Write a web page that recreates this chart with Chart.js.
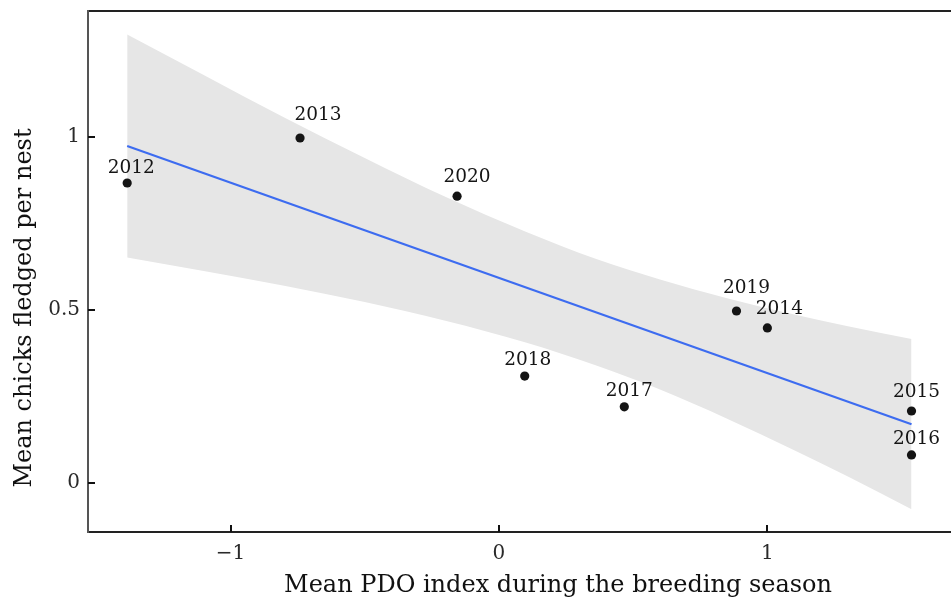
<!DOCTYPE html>
<html>
<head>
<meta charset="utf-8">
<script src="https://cdn.jsdelivr.net/npm/chart.js@4/dist/chart.umd.min.js"></script>
<style>
  html, body { margin: 0; padding: 0; background: #fff; }
  #wrap { width: 951px; height: 600px; position: relative; }
</style>
</head>
<body>
<div id="wrap"><canvas id="c" width="951" height="600"></canvas></div>
<script>
// Breeding seasons: mean PDO index (x) and mean chicks fledged per nest (y)
const years  = ['2012', '2013', '2020', '2018', '2017', '2019', '2014', '2015', '2016'];
const pdo    = [-1.385, -0.741, -0.156, 0.096, 0.467, 0.885, 1.000, 1.537, 1.537];
const chicks = [0.867, 0.997, 0.829, 0.309, 0.220, 0.497, 0.448, 0.208, 0.081];

// Fitted linear trend (endpoints)
const fitX = [-1.385, 1.537];
const fitY = [0.974, 0.170];

// 95% confidence band around the trend
const bandX     = [-1.385, -1.1, -0.8, -0.5, -0.2, 0.1, 0.36, 0.6, 0.85, 1.1, 1.3, 1.537];
const bandUpper = [1.296, 1.179, 1.056, 0.939, 0.827, 0.726, 0.648, 0.588, 0.534, 0.487, 0.453, 0.416];
const bandLower = [0.652, 0.613, 0.570, 0.523, 0.469, 0.406, 0.340, 0.270, 0.186, 0.095, 0.019, -0.076];

// Axis ticks and titles
const xTicks = [-1, 0, 1];
const yTicks = [0, 0.5, 1];
const xTitle = 'Mean PDO index during the breeding season';
const yTitle = 'Mean chicks fledged per nest';

const SERIF = "'DejaVu Serif', 'Liberation Serif', serif";

const zip = (xs, ys) => xs.map((x, i) => ({ x: x, y: ys[i] }));

// label offsets in pixels (dx, dy of baseline from point centre)
const labelNudge = [[4, -10], [18, -18], [10, -14], [3, -11], [5, -11], [10, -18], [12, -14], [5, -14], [5, -11]];

const pointLabels = {
  id: 'pointLabels',
  afterDatasetsDraw(chart) {
    const meta = chart.getDatasetMeta(3);
    const ctx = chart.ctx;
    ctx.save();
    ctx.font = "18.5px " + SERIF;
    ctx.fillStyle = '#151515';
    ctx.textAlign = 'center';
    ctx.textBaseline = 'alphabetic';
    meta.data.forEach((el, i) => {
      const n = labelNudge[i];
      ctx.fillText(years[i], el.x + n[0], el.y + n[1]);
    });
    ctx.restore();
  }
};

const frame = {
  id: 'frame',
  afterDraw(chart) {
    const { ctx, chartArea: a, scales } = chart;
    ctx.save();
    ctx.lineCap = 'butt';
    ctx.lineWidth = 2;
    // top and bottom rules
    ctx.strokeStyle = '#222';
    ctx.beginPath();
    ctx.moveTo(a.left, a.top); ctx.lineTo(chart.width, a.top);
    ctx.moveTo(a.left, a.bottom); ctx.lineTo(chart.width, a.bottom);
    ctx.stroke();
    // left rule
    ctx.strokeStyle = '#555';
    ctx.beginPath();
    ctx.moveTo(a.left, a.top - 1); ctx.lineTo(a.left, a.bottom + 1);
    ctx.stroke();
    // inward tick marks
    ctx.strokeStyle = '#111';
    ctx.beginPath();
    yTicks.forEach(v => {
      const y = Math.round(scales.y.getPixelForValue(v));
      ctx.moveTo(a.left, y); ctx.lineTo(a.left + 7, y);
    });
    xTicks.forEach(v => {
      const x = Math.round(scales.x.getPixelForValue(v));
      ctx.moveTo(x, a.bottom); ctx.lineTo(x, a.bottom - 7);
    });
    ctx.stroke();

    // axis titles
    ctx.fillStyle = '#111';
    ctx.font = "24px " + SERIF;
    ctx.textAlign = 'center';
    ctx.textBaseline = 'alphabetic';
    ctx.fillText(xTitle, 558, 592);
    ctx.translate(31, 308);
    ctx.rotate(-Math.PI / 2);
    ctx.fillText(yTitle, 0, 0);
    ctx.restore();
  }
};

new Chart(document.getElementById('c'), {
  type: 'scatter',
  data: {
    datasets: [
      {
        data: zip(bandX, bandUpper),
        showLine: true, pointRadius: 0, borderWidth: 0, borderColor: 'rgba(0,0,0,0)',
        backgroundColor: '#e6e6e6', fill: '+1', cubicInterpolationMode: 'monotone', order: 4
      },
      {
        data: zip(bandX, bandLower),
        showLine: true, pointRadius: 0, borderWidth: 0, borderColor: 'rgba(0,0,0,0)',
        fill: false, cubicInterpolationMode: 'monotone', order: 3
      },
      {
        data: zip(fitX, fitY),
        showLine: true, pointRadius: 0, borderWidth: 2.2, borderColor: '#3d6cf0',
        fill: false, order: 2
      },
      {
        data: zip(pdo, chicks),
        pointRadius: 4.6, pointBackgroundColor: '#141414', pointBorderWidth: 0,
        borderColor: '#141414', order: 1
      }
    ]
  },
  options: {
    responsive: false,
    animation: false,
    devicePixelRatio: 1,
    layout: { padding: { top: 11, right: 0, left: 0, bottom: 0 } },
    plugins: { legend: { display: false }, tooltip: { enabled: false } },
    scales: {
      x: {
        type: 'linear', min: -1.531, max: 1.667,
        grid: { display: false, drawTicks: false },
        border: { display: false },
        afterBuildTicks: s => { s.ticks = xTicks.map(v => ({ value: v })); },
        afterFit: s => { s.height = 68; s.paddingLeft = 0; s.paddingRight = 0; },
        ticks: {
          padding: 10, color: '#2a2a2a',
          font: { family: SERIF, size: 20 },
          callback: v => (v < 0 ? '\u2212' + Math.abs(v) : String(v))
        },
        title: { display: false }
      },
      y: {
        type: 'linear', min: -0.1416, max: 1.364,
        grid: { display: false, drawTicks: false },
        border: { display: false },
        afterBuildTicks: s => { s.ticks = yTicks.map(v => ({ value: v })); },
        afterFit: s => { s.width = 88; s.paddingTop = 0; s.paddingBottom = 0; },
        ticks: {
          padding: 8, color: '#2a2a2a',
          font: { family: SERIF, size: 20 },
          callback: v => String(v)
        },
        title: { display: false }
      }
    }
  },
  plugins: [pointLabels, frame]
});
</script>
</body>
</html>
